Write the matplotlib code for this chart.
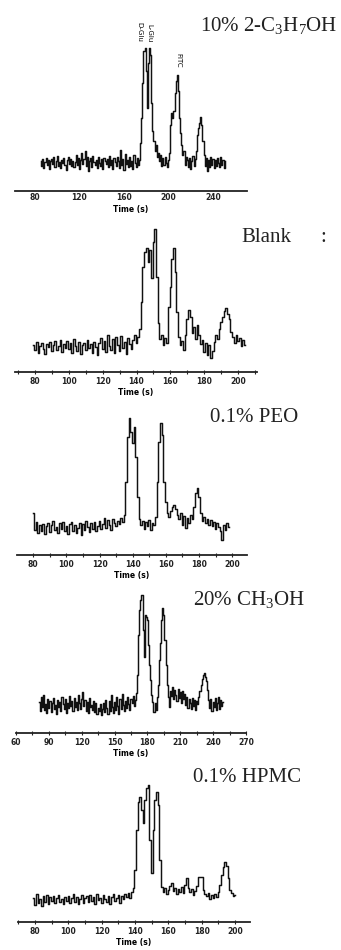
import numpy as np
import matplotlib
matplotlib.use("Agg")
import matplotlib.pyplot as plt
from matplotlib.ticker import MultipleLocator

plt.rcParams["mathtext.fontset"] = "custom"
plt.rcParams["mathtext.rm"] = "Liberation Serif"
plt.rcParams["mathtext.it"] = "Liberation Serif"

W, H = 341, 950

# ---- electropherogram traces (1 s sampling, detector signal, a.u.) ----
iso_t0 = 85
iso_signal = [
    2, -3, 4, -5, 1, 5, -2, 3, -6, 2,
    4, -1, 6, -4, 2, 7, -3, 1, -5, 3,
    0, 5, -2, -7, 3, 6, -1, 4, -3, 2,
    -4, 1, 8, -2, 5, -6, 3, 10, -1, 4,
    12, -3, 6, -8, 2, 5, -4, 7, 1, -2,
    3, -5, 6, 0, -3, 4, -6, 5, 2, -1,
    4, -4, 7, -2, 3, -6, 5, 1, -3, 6,
    2, -5, 13, -2, 4, -7, 9, -1, 3, -4,
    6, -3, 2, -6, 8, 0, -4, 5, -2, 3,
    20, 45, 80, 112, 115, 92, 55, 100, 115, 108,
    60, 32, 22, 12, 18, 6, 10, 2, 8, -3,
    5, -2, 6, 0, -4, 3, 10, 38, 50, 45,
    52, 70, 82, 88, 72, 45, 30, 18, 8, 12,
    -2, 6, 3, -4, 5, -6, 2, 7, -3, 4,
    12, 28, 35, 40, 46, 38, 22, 8, -3, 5,
    -8, 3, -4, 6, -2, 4, -5, 3, -3, 5,
    0, -4, 6, -2, 3, -5, 2,
]

blank_t0 = 79
blank_signal = [
    2, -3, 5, -6, 1, 4, -2, -7, 3, 0,
    5, -4, 2, 6, -3, 1, 7, -5, 3, -1,
    6, -2, 4, -6, 8, 1, -4, 5, -7, 2,
    4, -3, 7, -1, 3, -6, 5, 0, -8, 4,
    9, -2, 6, -5, 12, 1, -3, 8, -6, 10,
    2, -4, 11, -1, 5, -7, 9, 3, -2, 7,
    12, 4, 10, 18,
    45, 80, 95, 99, 85, 97, 69, 105, 118, 70,
    24, 8, 12, 2, 9, 4, 40, 60, 88, 99,
    75, 35, 10, 2, 6, -3, 12, 28, 37, 30,
    14, 20, 8, 22, 12, 3, 7, -5, 4, -8,
    2, -11, -4, 5, 12, 8, 18, 25, 30, 36,
    39, 33, 28, 15, 10, 4, 12, 6, 9, 1,
    7, 2,
]

peo_t0 = 80
peo_signal = [
    14, -3, 5, -6, 2, -4, 3, -7, 1, 4,
    -5, 2, 6, -3, 0, -6, 4, -2, 5, -4,
    1, -7, 3, 5, -4, 2, -6, -1, 4, -8,
    3, -3, 6, 0, -5, 4, -2, 5, -4, 1,
    6, -2, 3, 9, -1, 7, 2, -3, 8, 4,
    1, 6, 3, 9, 5, 12, 45, 90, 109, 95,
    84, 100, 70, 30, 8, 2, 6, -2, 5, 1,
    7, -3, 4, 2, 10, 45, 85, 104, 92, 45,
    25, 14, 10, 16, 20, 22, 18, 12, 8, 14,
    2, 11, -1, 9, 4, 12, 8, 20, 34, 39,
    30, 14, 6, 10, 4, 8, 2, 7, 1, 5,
    -2, 4, 0, -4, -13, 2, -3, 4, 0,
]

meoh_t0 = 81
meoh_signal = [
    3, -6, 8, -2, 10, -5, 1, -8, 6, -3,
    4, -7, 2, 7, -4, 0, -9, 5, -2, 3,
    -6, 8, 1, -4, 6, -8, 2, -3, 9, -1,
    4, -6, 7, -2, 3, -5, 10, 2, -4, 6,
    13, -1, 5, -6, 3, -8, 7, -2, 0, -5,
    4, -7, 2, -9, -3, -6, 1, -10, -4, 2,
    -7, 5, -3, -9, 4, -6, 10, -2, -8, 3,
    -5, 8, -1, -9, 6, -4, 11, 0, -6, 4,
    -3, 8, 1, -5, 6, 2, 9, -1, 5, 12,
    30, 70, 95, 105, 110, 75, 48, 90, 88, 85,
    60, 40, 25, 10, 3, -7, 2, -5, 8, 20,
    45, 62, 85, 97, 90, 65, 40, 20, 8, -2,
    14, 9, 18, 6, 15, 10, 4, 16, 7, 13,
    2, 14, 6, 11, 0, 8, -3, 6, 2, -4,
    7, -1, 5, -5, 4, 1, 8, 14, 20, 26,
    30, 32, 28, 24, 15, 5, -3, 6, -6, 3,
    -2, 7, -5, 2, 8, -4, 5, -1, 3,
]

hpmc_t0 = 79
hpmc_signal = [
    2, -5, 6, -3, 1, -6, 4, -2, 5, -4,
    3, -1, 4, -3, 2, 5, -2, 1, -4, 3,
    -1, 4, -3, 2, 6, -2, 3, -4, 1, 5,
    -3, 2, 4, -2, 5, -1, 3, -4, 6, 0,
    2, -3, 5, 1, -2, 4, -4, 3, 6, -1,
    2, 5, -3, 4, 1, 6, 3, 7, 2, 8,
    12, 30, 70, 98, 103, 90, 77, 100, 112, 115,
    60, 27, 70, 100, 108, 95, 40, 13, 8, 12,
    6, 10, 14, 17, 9, 12, 6, 11, 8, 13,
    7, 15, 22, 12, 8, 11, 5, 9, 14, 23,
    23, 23, 10, 6, 4, 7, 1, 5, 2, 6,
    3, 8, 15, 25, 33, 38, 34, 22, 10, 7,
    4, 5,
]

# panel titles
titles = [
    "10% 2-C$_3$H$_7$OH",
    "Blank",
    "0.1% PEO",
    "20% CH$_3$OH",
    "0.1% HPMC",
]

fig = plt.figure(figsize=(W / 100, H / 100), dpi=100)


def px_axes(x0, y0, x1, y1):
    return fig.add_axes([x0 / W, 1 - y1 / H, (x1 - x0) / W, (y1 - y0) / H])


def trace_panel(box, t0, sig, xlim, ylim, major, minor, ticklen):
    ax = px_axes(*box)
    t = t0 + np.arange(len(sig))
    ax.plot(t, sig, color="#111111", lw=1.05, drawstyle="steps-mid")
    ax.set_xlim(*xlim)
    ax.set_ylim(*ylim)
    for s in ("top", "left", "right"):
        ax.spines[s].set_visible(False)
    ax.spines["bottom"].set_linewidth(1.3)
    ax.spines["bottom"].set_color("#222222")
    ax.set_yticks([])
    ax.xaxis.set_major_locator(MultipleLocator(major))
    if minor:
        ax.xaxis.set_minor_locator(MultipleLocator(minor))
    ax.tick_params(axis="x", which="major", direction="inout", length=ticklen,
                   width=0.8, labelsize=5.5, pad=1.5, colors="#222222")
    ax.tick_params(axis="x", which="minor", direction="inout", length=ticklen * 0.8,
                   width=0.8, colors="#222222")
    for lab in ax.get_xticklabels():
        lab.set_fontweight("bold")
    ax.set_xlabel("Time (s)", fontsize=5.5, labelpad=2, fontweight="bold")
    ax.patch.set_alpha(0)
    return ax


# 10 % 2-propanol
ax1 = trace_panel((15, 40, 247, 191), iso_t0, iso_signal, (62.0, 270.6), (-28, 123), 40, None, 0)
ax1.set_xticks([80, 120, 160, 200, 240])
for lab in ax1.get_xticklabels():
    lab.set_fontweight("bold")
ax1.text(174.0, 121, "D-Glu", rotation=270, ha="center", va="bottom", fontsize=5, clip_on=False)
ax1.text(183.0, 121, "L-Glu", rotation=270, ha="center", va="bottom", fontsize=5, clip_on=False)
ax1.text(208.5, 95, "FITC", rotation=270, ha="center", va="bottom", fontsize=5, clip_on=False)

# blank buffer
trace_panel((15, 220, 257, 372), blank_t0, blank_signal, (68.2, 211.2), (-25, 127), 20, 10, 3.5)

# 0.1 % PEO
trace_panel((17, 405, 247, 555), peo_t0, peo_signal, (70.2, 208.9), (-28, 122), 20, 10, 3.5)

# 20 % methanol
trace_panel((16, 585, 246, 733), meoh_t0, meoh_signal, (60, 270), (-28, 120), 30, 15, 3.5)

# 0.1 % HPMC
trace_panel((18, 770, 250, 922), hpmc_t0, hpmc_signal, (69.8, 209.0), (-22, 130), 20, 10, 3.5)

serif = dict(family="Liberation Serif", fontsize=15, color="#222222", va="center")
fig.text(200 / W, 1 - 25 / H, titles[0], ha="left", **serif)
fig.text(241 / W, 1 - 237 / H, titles[1], ha="left", **serif)
fig.text(320 / W, 1 - 237 / H, ":", ha="left", **serif)
fig.text(210 / W, 1 - 417 / H, titles[2], ha="left", **serif)
fig.text(193 / W, 1 - 600 / H, titles[3], ha="left", **serif)
fig.text(193 / W, 1 - 778 / H, titles[4], ha="left", **serif)

fig.savefig("out.png", dpi=100)
